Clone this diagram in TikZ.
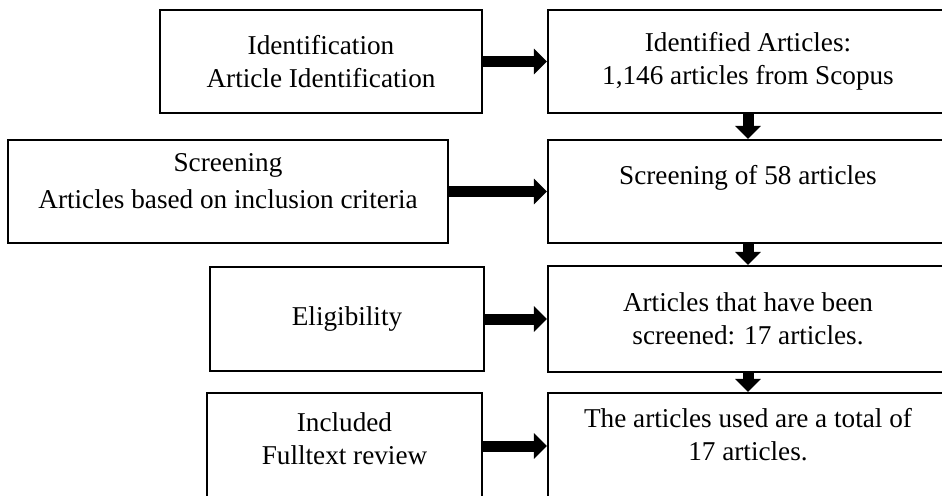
\documentclass[tikz,border=0pt]{standalone}
\usepackage{fontspec}
\setmainfont{Liberation Serif}
\usepackage{tikz}
\usetikzlibrary{arrows.meta,positioning}

\begin{document}
\begin{tikzpicture}[
    x=1pt,y=-1pt,
    box/.style = {rectangle,draw=black,line width=1.1pt,align=center,
                  font=\fontsize{13.6}{16.5}\selectfont,inner sep=2pt},
    fat/.style = {-{Triangle[length=6.5pt,width=12.5pt]},line width=5.5pt,black},
  ]
  \useasboundingbox (0,0) rectangle (471,247.5);

  % left column: stages
  \node[box,minimum width=161pt,minimum height=51.5pt]   (ident)  at (160.5,30.75)
       {Identification\\ Article Identification};
  \node[box,minimum width=220pt,minimum height=51.5pt,text depth=11pt] (screen) at (114,95.75)
       {Screening\\[2pt] Articles based on inclusion criteria};
  \node[box,minimum width=137pt,minimum height=52pt]     (elig)   at (173.5,159.5)
       {Eligibility};
  \node[box,minimum width=137.5pt,minimum height=53pt,text depth=7pt] (incl) at (172.25,223)
       {Included\\ Fulltext review};

  % right column: results
  \node[box,minimum width=200pt,minimum height=51.5pt]   (idres)  at (374,30.75)
       {Identified Articles:\\ 1,146 articles from Scopus};
  \node[box,minimum width=200pt,minimum height=51.5pt]   (scres)  at (374,95.75)
       {Screening of 58 articles\\ ~};
  \node[box,minimum width=200pt,minimum height=53pt]     (elres)  at (374,159.5)
       {Articles that have been\\ screened: 17 articles.};
  \node[box,minimum width=200pt,minimum height=53pt,text depth=12pt] (inres) at (374,223)
       {The articles used are a total of\\ 17 articles.};

  \draw[fat] (ident)  -- (idres);
  \draw[fat] (screen) -- (scres);
  \draw[fat] (elig)   -- (elres);
  \draw[fat] (incl)   -- (inres);

  \draw[fat] (idres) -- (scres);
  \draw[fat] (scres) -- (elres);
  \draw[fat] (elres) -- (inres);

\end{tikzpicture}
\end{document}
